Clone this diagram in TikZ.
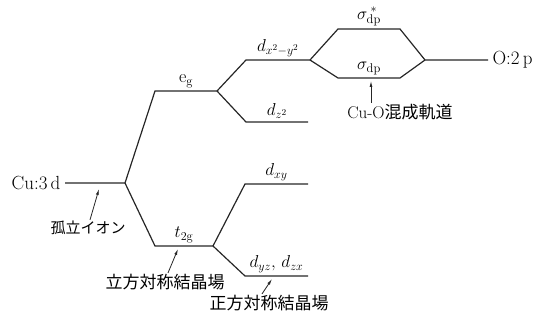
\documentclass[tikz,border=0pt]{standalone}
\usepackage{fontspec}
\newfontfamily\jpfont{Noto Sans CJK JP}
\usetikzlibrary{arrows.meta,positioning,calc}

\begin{document}
\begin{tikzpicture}[x=1pt,y=-1pt,>={Latex[length=6pt,width=3pt]},
  font=\fontsize{19}{21}\selectfont,
  level/.style={line width=1.2pt,black!85},
  lab/.style={font=\fontsize{18}{20}\selectfont,inner sep=1pt},
  jtext/.style={font=\jpfont\fontsize{17}{19}\selectfont,inner sep=1pt},
  pin/.style={->,line width=.8pt,black!85}]
\useasboundingbox (0,0) rectangle (541,320);
% level end points
\coordinate (cu1) at (65,183);  \coordinate (cu2) at (125,183);
\coordinate (eg1) at (155,91);  \coordinate (eg2) at (217,91);
\coordinate (tg1) at (155,246); \coordinate (tg2) at (213,246);
\coordinate (dx1) at (246,60);  \coordinate (dx2) at (310,60);
\coordinate (dz1) at (246,122); \coordinate (dz2) at (308,122);
\coordinate (dxy1) at (245,184); \coordinate (dxy2) at (308,184);
\coordinate (dyz1) at (245,276); \coordinate (dyz2) at (308,276);
\coordinate (sa1) at (338,29);  \coordinate (sa2) at (400,29);
\coordinate (sb1) at (338,78);  \coordinate (sb2) at (400,78);
\coordinate (op1) at (425,60);  \coordinate (op2) at (488,60);
% splitting
\draw[level] (cu1) -- (cu2) -- (eg1) -- (eg2) -- (dx1) -- (dx2) -- (sa1) -- (sa2) -- (op1) -- (op2);
\draw[level] (eg2) -- (dz1) -- (dz2);
\draw[level] (dx2) -- (sb1) -- (sb2) -- (op1);
\draw[level] (cu2) -- (tg1) -- (tg2) -- (dxy1) -- (dxy2);
\draw[level] (tg2) -- (dyz1) -- (dyz2);
% atoms
\node[left=1pt] (cu) at (cu1) {Cu:3\,d};
\node[right=1pt] (ox) at (op2) {O:2\,p};
% level labels
\node[lab,above=2pt] (eg) at ($(eg1)!.5!(eg2)$) {e$_{\mathrm{g}}$};
\node[lab,above=2pt] (t2g) at ($(tg1)!.5!(tg2)$) {$t_{2\mathrm{g}}$};
\node[lab,above=2pt] (dx) at ($(dx1)!.5!(dx2)$) {$d_{x^2-y^2}$};
\node[lab,above=2pt] (dz) at ($(dz1)!.5!(dz2)$) {$d_{z^2}$};
\node[lab,above=2pt] (dxy) at ($(dxy1)!.5!(dxy2)$) {$d_{xy}$};
\node[lab,above=2pt] (dyz) at ($(dyz1)!.5!(dyz2)$) {$d_{yz},\,d_{zx}$};
\node[lab,above=2pt] (sa) at ($(sa1)!.5!(sa2)$) {$\sigma_{\mathrm{dp}}^{\;*}$};
\node[lab,above=2pt] (sb) at ($(sb1)!.5!(sb2)$) {$\sigma_{\mathrm{dp}}$};
% notes
\node[jtext,font=\jpfont\fontsize{15}{17}\selectfont] (iso) at (88,228) {孤立イオン};
\node[jtext] (cub) at (165,282) {立方対称結晶場};
\node[jtext] (tet) at (269,303) {正方対称結晶場};
\node[inner sep=1pt,font=\fontsize{17}{19}\selectfont] (cuo) at (400,112) {Cu-O{\jpfont 混成軌道}};
\coordinate (isoTip) at (99,189);
\coordinate (cubTip) at (178,249);
\coordinate (tetTip) at (272,279);
\coordinate (cuoTip) at (371,81);
\draw[pin] ([xshift=2pt]iso.north) -- (isoTip);
\draw[pin] ([xshift=3pt]cub.north) -- (cubTip);
\draw[pin] ([xshift=-7pt]tet.north) -- (tetTip);
\draw[pin] (cuoTip |- cuo.north) -- (cuoTip);
\end{tikzpicture}
\end{document}
